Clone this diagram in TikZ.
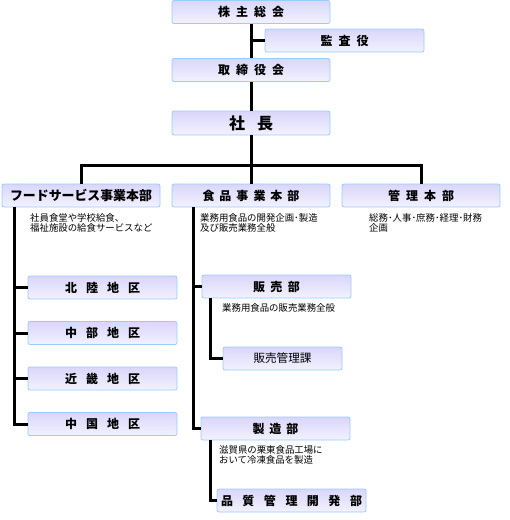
\documentclass[tikz,border=0pt]{standalone}
\usepackage{fontspec}
\newfontfamily\jp{Noto Sans CJK JP}
\usetikzlibrary{positioning}

\definecolor{boxline}{HTML}{99CCFF}
\definecolor{boxtop}{HTML}{DAD6FA}
\definecolor{boxbot}{HTML}{F2F2FE}

\newcommand{\gp}{\kern6pt}
\newcommand{\wgp}{\kern9pt}

\tikzset{
  orgbox/.style={draw=boxline, line width=0.8pt, rounded corners=2pt,
    top color=boxtop, bottom color=boxbot, inner sep=0pt,
    minimum width=158pt, minimum height=23pt, font=\jp\bfseries\fontsize{12}{12}\selectfont},
  subbox/.style={orgbox, minimum width=149pt},
  note/.style={anchor=north west, inner sep=0pt, align=left,
    font=\jp\fontsize{9.4}{10.5}\selectfont},
  link/.style={line width=3pt}
}

\begin{document}
\begin{tikzpicture}[x=1pt,y=-1pt]

\useasboundingbox (0,0) rectangle (510,520);

%top of the chart
\node[orgbox] (soukai) at (251,12) {株\gp 主\gp 総\gp 会};
\node[orgbox, minimum width=159pt] (kansa) at (344.5,40.5) {監\gp 査\gp 役};
\node[orgbox] (torishimari) at (251,70) {取\gp 締\gp 役\gp 会};
\node[orgbox, minimum height=24pt, font=\jp\bfseries\fontsize{16}{16}\selectfont] (shacho) at (251,123) {社\kern12pt 長};

\draw[link] (soukai.south) -- (torishimari.north);
\draw[link] (kansa.west) -- (kansa.west -| soukai.south);
\draw[link] (torishimari.south) -- (shacho.north);

%three divisions
\node[orgbox, font=\jp\bfseries\fontsize{12.9}{13}\selectfont] (fs) at (81,195.5) {フードサービス事業本部};
\node[orgbox] (shokuhin) at (251,195.5) {食\kern5pt 品\kern5pt 事\kern5pt 業\kern5pt 本\kern5pt 部};
\node[orgbox] (kanri) at (421,195.5) {管\gp 理\gp 本\gp 部};

\coordinate (bus) at (251,165);
\draw[link] (shacho.south) -- (shokuhin.north);
\draw[link] (fs.north) -- (fs.north |- bus) -- (kanri.north |- bus) -- (kanri.north);

\node[note] (fsnote) at (30,213) {社員食堂や学校給食、\\福祉施設の給食サービスなど};
\node[note] (shnote) at (200,213) {業務用食品の開発企画･製造\\及び販売業務全般};
\node[note] (kanote) at (369,213) {総務･人事･庶務･経理･財務\\企画};

%food service areas
\node[subbox] (hokuriku) at (102.5,287.5) {北\wgp 陸\wgp 地\wgp 区};
\node[subbox] (chubu) at (102.5,333) {中\wgp 部\wgp 地\wgp 区};
\node[subbox] (kinki) at (102.5,378.5) {近\wgp 畿\wgp 地\wgp 区};
\node[subbox] (chugoku) at (102.5,424) {中\wgp 国\wgp 地\wgp 区};

\coordinate (fsl) at ([xshift=12.7pt]fs.south west);
\draw[link] (fsl) |- (chugoku.west);
\draw[link] (hokuriku.west) -- (hokuriku.west -| fsl);
\draw[link] (chubu.west) -- (chubu.west -| fsl);
\draw[link] (kinki.west) -- (kinki.west -| fsl);

%food division
\node[subbox] (hanbai) at (276.5,286.5) {販\kern5.5pt 売\kern5.5pt 部};
\node[subbox, minimum width=119pt, font=\jp\fontsize{11.6}{12}\selectfont] (kanrika) at (282.5,358.5) {販売管理課};
\node[subbox] (seizo) at (275.5,428.5) {製\kern5pt 造\kern5pt 部};
\node[subbox] (hinshitsu) at (291.5,500.5) {品\kern9.5pt 質\kern9.5pt 管\kern9.5pt 理\kern9.5pt 開\kern9.5pt 発\kern9.5pt 部};

\coordinate (shl) at ([xshift=22pt]shokuhin.south west);
\draw[link] (shl) |- (seizo.west);
\draw[link] (hanbai.west) -- (hanbai.west -| shl);
\draw[link] ([xshift=8.7pt]hanbai.south west) |- (kanrika.west);
\draw[link] ([xshift=10pt]seizo.south west) |- (hinshitsu.west);

\node[note] (hbnote) at (222,303) {業務用食品の販売業務全般};
\node[note] (sznote) at (219,445) {滋賀県の栗東食品工場に\\おいて冷凍食品を製造};

\end{tikzpicture}
\end{document}
